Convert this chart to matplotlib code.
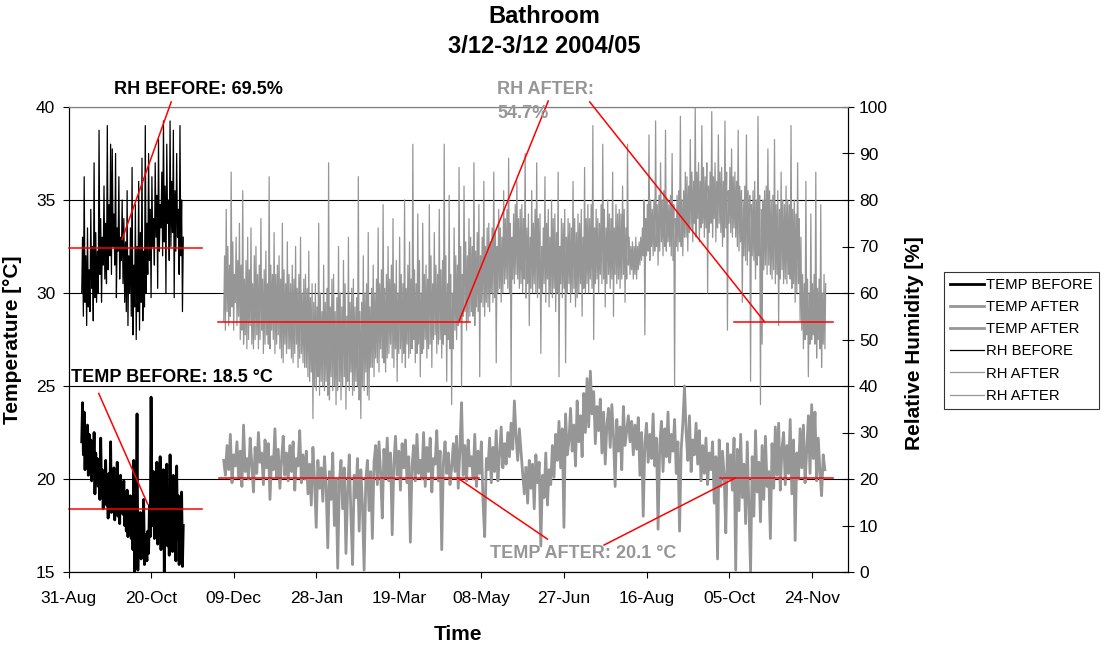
#!/usr/bin/env python
# -*- coding: utf-8 -*-
"""Bathroom temperature / relative humidity before and after, 2004/05"""

import datetime as dt
import matplotlib

matplotlib.use("Agg")
import matplotlib.pyplot as plt
import pandas as pd

plt.rcParams["font.family"] = ["Liberation Sans", "DejaVu Sans"]

# --- data --------------------------------------------------------------------
# "before" logger: 12-hourly readings from 8 Sep 2004
before_start = "2004-09-08"
temp_before = [
    22.0, 24.1, 21.3, 23.6, 20.5, 22.7, 21.0, 22.9, 20.2, 22.4,
    20.6, 22.1, 19.9, 21.7, 20.3, 22.5, 19.2, 21.4, 20.0, 21.1,
    19.6, 20.8, 18.9, 22.2, 19.4, 20.5, 18.4, 20.1, 19.0, 21.0,
    18.6, 19.8, 17.9, 20.3, 18.5, 22.0, 18.2, 19.5, 18.8, 20.6,
    17.8, 19.6, 18.4, 20.9, 18.0, 19.3, 17.6, 20.2, 18.7, 19.0,
    18.1, 19.9, 17.5, 18.9, 17.2, 19.4, 16.9, 18.6, 17.3, 19.1,
    16.8, 18.5, 16.2, 21.0, 15.0, 18.0, 16.5, 23.5, 15.1, 17.7,
    16.4, 18.2, 15.7, 17.4, 16.0, 18.9, 15.4, 17.0, 16.3, 15.6,
    17.2, 16.0, 18.6, 16.9, 24.4, 19.0, 17.5, 20.4, 16.8, 19.6,
    17.4, 20.9, 16.5, 19.2, 18.0, 21.2, 16.2, 19.8, 17.1, 20.5,
    15.0, 19.0, 17.6, 20.8, 16.4, 18.7, 15.9, 21.3, 17.0, 19.4,
    16.1, 20.2, 17.3, 18.5, 15.6, 20.7, 16.8, 19.1, 15.4, 18.9,
    16.6, 19.3, 15.3, 17.5,
]
rh_before = [
    60, 72, 55, 85, 58, 68, 53, 74, 57, 65,
    56, 78, 61, 70, 54, 88, 59, 73, 58, 69,
    60, 95, 64, 76, 58, 72, 66, 83, 63, 75,
    62, 96, 65, 79, 68, 92, 64, 91, 70, 77,
    66, 90, 59, 74, 69, 85, 63, 72, 67, 80,
    62, 76, 58, 71, 56, 82, 53, 68, 60, 74,
    55, 87, 51, 66, 57, 79, 50, 70, 56, 84,
    52, 73, 58, 89, 54, 69, 57, 96, 60, 75,
    64, 90, 67, 78, 59, 85, 70, 76, 66, 88,
    72, 81, 61, 93, 69, 79, 74, 86, 68, 97,
    71, 83, 60, 92, 75, 80, 67, 97, 70, 84,
    73, 95, 59, 82, 69, 90, 72, 78, 64, 96,
    68, 80, 56, 72,
]

# "after" logger: temperature daily, RH 12-hourly, 3 Dec 2004 - 2 Dec 2005
after_start = "2004-12-03"
temp_after = [
    21.0, 20.2, 21.8, 20.5, 22.4, 19.8, 21.3, 20.7, 22.0, 20.1,
    21.5, 19.6, 22.9, 20.4, 21.1, 20.0, 22.2, 20.8, 19.3, 21.7,
    20.3, 22.5, 20.9, 21.4, 19.7, 22.1, 20.6, 21.9, 18.9, 21.2,
    20.5, 22.7, 20.1, 21.6, 19.5, 21.0, 22.3, 20.2, 21.4, 19.9,
    21.8, 20.4, 22.0, 19.4, 21.1, 20.7, 22.6, 19.8, 21.3, 20.0,
    21.5, 19.2, 20.8, 18.6, 21.7, 19.9, 17.4, 21.0, 19.5, 20.6,
    18.8, 21.2, 19.6, 16.3, 20.4, 18.9, 21.4, 17.5, 20.0, 15.2,
    19.8, 21.0, 18.4, 20.6, 16.0, 19.3, 21.3, 18.1, 15.4, 20.2,
    19.0, 21.1, 17.2, 20.5, 18.6, 15.1, 19.9, 21.0, 18.3, 20.4,
    16.8, 20.9, 21.8, 19.7, 22.0, 20.3, 17.9, 21.6, 20.1, 22.2,
    19.9, 21.4, 17.0, 20.8, 22.3, 20.2, 21.5, 19.4, 21.9, 20.6,
    22.1, 19.8, 21.2, 16.6, 20.7, 21.8, 19.9, 22.4, 20.3, 21.0,
    20.0, 22.5, 19.6, 21.7, 20.4, 22.2, 19.3, 21.1, 20.8, 22.6,
    19.9, 21.5, 16.2, 20.9, 22.0, 20.3, 21.4, 19.7, 20.6, 21.9,
    20.4, 22.3, 19.5, 21.6, 24.1, 20.2, 21.8, 19.9, 22.1, 20.7,
    21.2, 20.0, 22.4, 19.6, 21.5, 20.3, 22.0, 18.8, 16.9, 21.1,
    20.5, 22.2, 19.8, 21.7, 20.4, 22.6, 19.9, 21.3, 22.8, 20.6,
    21.9, 20.8, 22.5, 21.2, 23.0, 21.6, 24.2, 22.3, 21.0, 22.7,
    21.5, 20.3, 19.2, 20.6, 18.7, 21.0, 19.5, 20.8, 18.4, 21.3,
    19.8, 20.9, 16.4, 20.2, 19.0, 21.4, 18.6, 20.5, 19.7, 21.8,
    20.1, 22.4, 21.0, 23.1, 20.6, 22.7, 17.4, 23.5, 21.3, 22.0,
    23.8, 21.5, 22.9, 20.7, 24.2, 22.0, 23.4, 21.2, 24.6, 22.5,
    25.4, 22.8, 25.8, 23.5, 24.7, 21.9, 23.9, 22.6, 24.3, 21.4,
    23.6, 20.8, 22.9, 23.8, 21.7, 24.0, 22.3, 19.6, 23.2, 21.5,
    22.8, 20.5, 23.9, 21.8, 22.6, 23.4, 22.0, 23.1, 21.3, 22.9,
    21.6, 23.3, 20.2, 22.5, 18.0, 21.9, 23.0, 20.9, 22.4, 21.1,
    23.5, 20.7, 22.2, 17.3, 21.8, 23.1, 20.4, 22.7, 21.2, 23.6,
    20.9, 22.4, 21.5, 23.2, 20.3, 22.0, 17.2, 21.6, 23.0, 25.0,
    22.5, 21.0, 23.4, 20.4, 22.1, 21.3, 23.0, 20.8, 22.6, 19.9,
    21.8, 20.3, 22.2, 19.7, 21.4, 20.5, 22.0, 18.7, 21.2, 15.7,
    22.1, 19.6, 21.5, 20.2, 17.1, 21.9, 20.0, 21.3, 19.4, 22.2,
    15.1, 21.6, 18.3, 22.4, 19.0, 20.8, 17.6, 22.0, 18.5, 15.0,
    21.2, 18.0, 22.6, 19.3, 20.9, 17.7, 21.8, 18.9, 22.3, 19.6,
    20.4, 16.8, 21.9, 19.5, 22.8, 20.2, 23.0, 19.4, 21.6, 22.5,
    19.7, 21.8, 20.3, 23.2, 19.2, 22.1, 16.7, 21.4, 20.0, 22.7,
    20.6, 22.9, 19.8, 21.5, 23.4, 20.3, 24.0, 21.1, 23.6, 19.9,
    22.2, 20.4, 19.1, 21.3, 20.5,
]
rh_after = [
    54, 68, 52, 78, 56, 70, 53, 66, 55, 86, 57, 71, 52, 64, 58, 72, 53, 67, 55, 75,
    50, 66, 52, 82, 49, 63, 51, 67, 48, 72, 50, 65, 53, 74, 49, 62, 48, 68, 50, 70,
    51, 64, 48, 66, 50, 76, 52, 63, 47, 65, 49, 69, 51, 62, 49, 85, 48, 66, 52, 64,
    50, 73, 47, 64, 49, 66, 51, 68, 48, 63, 46, 75, 45, 65, 49, 62, 47, 71, 48, 64,
    48, 62, 46, 66, 45, 63, 47, 70, 49, 61, 44, 64, 46, 72, 47, 60, 45, 63, 44, 64,
    44, 61, 42, 69, 41, 59, 43, 62, 33, 58, 40, 62, 39, 57, 42, 75, 38, 60, 41, 56,
    40, 66, 39, 58, 41, 61, 38, 88, 37, 57, 42, 63, 39, 64, 40, 56, 36, 59, 39, 70,
    41, 60, 37, 57, 40, 67, 42, 62, 35, 55, 41, 72, 39, 58, 43, 61, 38, 63, 39, 57,
    41, 59, 40, 85, 37, 56, 33, 58, 40, 68, 39, 60, 43, 62, 38, 73, 37, 57, 44, 61,
    44, 66, 42, 60, 46, 63, 45, 74, 43, 62, 48, 65, 46, 79, 45, 61, 43, 64, 46, 70,
    47, 63, 49, 66, 46, 76, 44, 62, 48, 67, 41, 60, 47, 72, 48, 64, 45, 62, 47, 80,
    44, 61, 49, 66, 46, 71, 47, 63, 48, 92, 50, 65, 45, 62, 47, 77, 49, 67, 42, 60,
    47, 75, 48, 64, 50, 66, 46, 63, 48, 79, 49, 68, 44, 62, 50, 73, 51, 66, 47, 64,
    49, 78, 50, 65, 46, 67, 49, 92, 51, 68, 41, 62, 50, 81, 48, 64, 36, 60, 48, 74,
    52, 68, 50, 66, 53, 87, 54, 70, 40, 64, 55, 83, 56, 71, 52, 68, 54, 76, 55, 72,
    56, 70, 55, 88, 53, 69, 57, 73, 56, 79, 42, 68, 58, 72, 57, 84, 55, 70, 58, 74,
    57, 75, 56, 71, 60, 74, 58, 86, 59, 73, 45, 70, 60, 78, 61, 74, 58, 72, 60, 82,
    62, 76, 63, 78, 61, 89, 60, 75, 40, 72, 63, 77, 62, 79, 64, 84, 63, 76, 61, 78,
    62, 79, 60, 76, 63, 90, 59, 74, 62, 77, 53, 72, 61, 82, 60, 75, 62, 78, 60, 88,
    59, 76, 61, 77, 47, 70, 60, 74, 62, 85, 58, 75, 63, 78, 57, 72, 60, 80, 59, 76,
    61, 77, 56, 73, 60, 86, 42, 70, 62, 76, 59, 75, 61, 78, 45, 72, 60, 76, 62, 75,
    58, 74, 60, 84, 61, 76, 57, 73, 59, 77, 60, 75, 62, 78, 55, 72, 61, 87, 60, 76,
    62, 79, 60, 76, 63, 79, 61, 96, 50, 74, 62, 78, 63, 76, 60, 75, 64, 79, 62, 92,
    63, 78, 57, 74, 62, 80, 64, 77, 61, 76, 63, 86, 55, 74, 64, 79, 62, 77, 63, 78,
    61, 77, 63, 83, 64, 78, 58, 74, 63, 92, 66, 72, 64, 70, 65, 71, 63, 70, 64, 72,
    63, 70, 65, 71, 66, 72, 67, 74, 68, 80, 51, 76, 68, 79, 69, 94, 67, 80, 70, 78,
    68, 80, 69, 97, 70, 79, 66, 81, 69, 88, 71, 80, 68, 82, 70, 95, 69, 80, 71, 79,
    70, 81, 68, 90, 67, 79, 40, 76, 70, 81, 69, 82, 71, 98, 70, 80, 68, 82, 72, 86,
    72, 85, 69, 83, 73, 93, 74, 86, 71, 84, 75, 100, 72, 86, 76, 88, 71, 84, 74, 96,
    75, 87, 72, 85, 74, 88, 60, 83, 73, 86, 75, 99, 72, 85, 76, 88, 71, 84, 74, 94,
    75, 86, 73, 87, 70, 84, 72, 97, 74, 86, 52, 82, 75, 87, 73, 91, 72, 85, 74, 86,
    72, 84, 70, 95, 69, 83, 71, 82, 58, 80, 68, 83, 67, 94, 66, 82, 69, 81, 41, 79,
    68, 82, 67, 84, 63, 80, 66, 98, 68, 81, 36, 78, 49, 80, 65, 82, 66, 83, 64, 91,
    66, 82, 64, 80, 63, 81, 65, 93, 62, 79, 64, 82, 53, 78, 63, 86, 65, 80, 62, 79,
    63, 83, 62, 80, 64, 79, 63, 96, 61, 78, 62, 80, 58, 77, 60, 88, 62, 76, 54, 72,
    52, 64, 48, 62, 50, 84, 51, 63, 42, 60, 49, 77, 50, 62, 51, 64, 49, 86, 46, 61,
    50, 63, 48, 79, 44, 60, 49, 64, 48, 62,
]

# levels where the red mean lines sit, and the label texts
mean_rh_before = 69.6
mean_rh_after = 53.8
mean_temp_before = 18.4
mean_temp_after = 20.05
label_rh_before = "RH BEFORE: 69.5%"
label_rh_after = "RH AFTER:\n54.7%"
label_temp_before = "TEMP BEFORE: 18.5 °C"
label_temp_after = "TEMP AFTER: 20.1 °C"

GRAY = "#969696"
RED = "#ff0000"
BASE = dt.datetime(2004, 8, 31)
W, H = 1101, 648


def day(n):
    """Date n days after 31-Aug-2004"""
    return BASE + dt.timedelta(days=n)


def fx(px):
    return px / W


def fy(py):
    return 1 - py / H


before_times = pd.date_range(before_start, periods=len(temp_before), freq="12h")
temp_after_times = pd.date_range(after_start, periods=len(temp_after), freq="D")
rh_after_times = pd.date_range(after_start, periods=len(rh_after), freq="12h")
# the after data came in two files, split at 3 Jun 2005
t_split = 183
r_split = 366

fig = plt.figure(figsize=(W / 100, H / 100), dpi=100)
ax = fig.add_axes([fx(68.5), fy(572), (848 - 68.5) / W, (572 - 107) / H])
ax2 = ax.twinx()

l1, = ax.plot(before_times, temp_before, color="black", lw=2.0, label="TEMP BEFORE")
l2, = ax.plot(temp_after_times[: t_split + 1], temp_after[: t_split + 1], color=GRAY, lw=2.0, label="TEMP AFTER")
l3, = ax.plot(temp_after_times[t_split:], temp_after[t_split:], color=GRAY, lw=2.0, label="TEMP AFTER")
l4, = ax2.plot(before_times, rh_before, color="black", lw=0.9, label="RH BEFORE")
l5, = ax2.plot(rh_after_times[: r_split + 1], rh_after[: r_split + 1], color=GRAY, lw=0.9, label="RH AFTER")
l6, = ax2.plot(rh_after_times[r_split:], rh_after[r_split:], color=GRAY, lw=0.9, label="RH AFTER")

# axes
ax.set_xlim(day(0), day(472))
ax.set_ylim(15, 40)
ax2.set_ylim(0, 100)
ax.set_xticks([day(50 * k) for k in range(10)])
ax.xaxis.set_major_formatter(matplotlib.dates.DateFormatter("%d-%b"))
ax.set_yticks(range(15, 41, 5))
ax2.set_yticks(range(0, 101, 10))
ax.grid(axis="y", color="black", lw=0.8)
ax.tick_params(axis="x", direction="out", length=4.5, width=0.8, labelsize=12.5, pad=9)
ax.tick_params(axis="y", direction="out", length=4.5, width=0.8, labelsize=12.5, pad=5)
ax2.tick_params(axis="y", direction="inout", length=8, width=0.8, labelsize=12.5, pad=4)
for a in (ax, ax2):
    a.spines["top"].set_color("#808080")
    a.spines["top"].set_linewidth(0.8)
    for s in ("left", "right", "bottom"):
        a.spines[s].set_linewidth(0.8)

# red mean lines and connectors
red = dict(color=RED, lw=1.1, clip_on=False, zorder=10)
ax.plot([day(0), day(81)], [mean_temp_before] * 2, **red)
ax.plot([day(91.2), day(248.8)], [mean_temp_after] * 2, **red)
ax.plot([day(394.7), day(463.2)], [mean_temp_after] * 2, **red)
ax.plot([day(18.3), day(47.9)], [24.6, 18.66], **red)
ax.plot([day(235.7), day(290.0)], [mean_temp_after, 16.77], **red)
ax.plot([day(324.3), day(403.8)], [16.45, mean_temp_after], **red)
ax2.plot([day(0), day(81)], [mean_rh_before] * 2, **red)
ax2.plot([day(90.6), day(243.0)], [mean_rh_after] * 2, **red)
ax2.plot([day(403.0), day(463.2)], [mean_rh_after] * 2, **red)
ax2.plot([day(62.2), day(32.4)], [101.1, 71.5], **red)
ax2.plot([day(290.5), day(236.3)], [101.3, mean_rh_after], **red)
ax2.plot([day(315.6), day(421.5)], [101.1, mean_rh_after], **red)

# labels
bold = dict(fontsize=13, fontweight="bold")
fig.text(fx(198), fy(89), label_rh_before, ha="center", va="center", color="black", **bold)
fig.text(fx(497), fy(81), label_rh_after, ha="left", va="top", color=GRAY, linespacing=1.5, **bold)
fig.text(fx(71), fy(377), label_temp_before, ha="left", va="center", color="black", **bold)
fig.text(fx(676), fy(553), label_temp_after, ha="right", va="center", color=GRAY, **bold)

fig.text(fx(544), fy(5), "Bathroom\n3/12-3/12 2004/05", ha="center", va="top",
         fontsize=17, fontweight="bold", linespacing=1.4)
fig.text(fx(13), fy(340), "Temperature [°C]", rotation=90, ha="center", va="center",
         fontsize=15, fontweight="bold")
fig.text(fx(915), fy(343), "Relative Humidity [%]", rotation=90, ha="center", va="center",
         fontsize=15, fontweight="bold")
fig.text(fx(458), fy(634), "Time", ha="center", va="center", fontsize=15, fontweight="bold")

leg = fig.legend(
    [l1, l2, l3, l4, l5, l6],
    [l.get_label() for l in (l1, l2, l3, l4, l5, l6)],
    loc="upper left",
    bbox_to_anchor=(fx(944), fy(272)),
    fontsize=10.7,
    frameon=True,
    fancybox=False,
    handlelength=2.3,
    handletextpad=0.15,
    labelspacing=0.55,
    borderpad=0.4,
    borderaxespad=0,
)
leg.get_frame().set_edgecolor("black")
leg.get_frame().set_linewidth(0.8)

fig.savefig("out.png", dpi=100)
